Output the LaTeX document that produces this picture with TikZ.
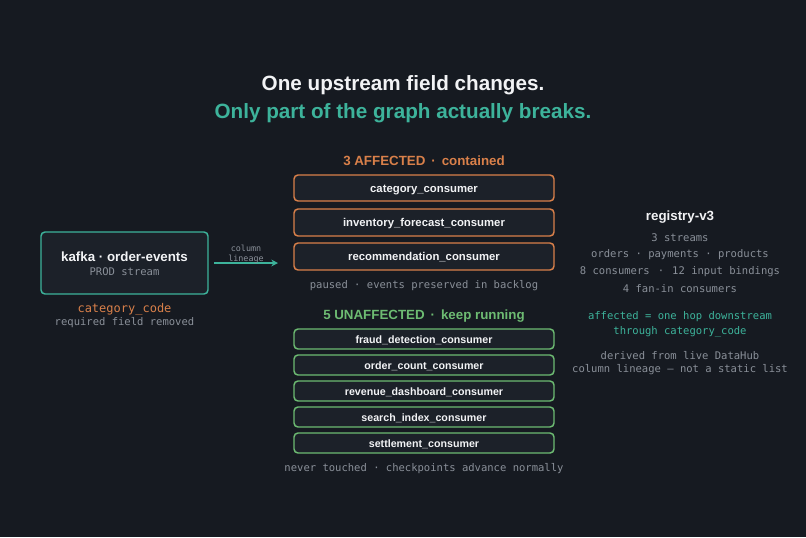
\documentclass[tikz,border=0pt]{standalone}
\usepackage{fontspec}
\setmainfont{Liberation Sans}
\setmonofont{DejaVu Sans Mono}
\usetikzlibrary{arrows.meta}
\definecolor{bg}{HTML}{161A21}
\definecolor{boxf}{HTML}{1C2129}
\definecolor{teal}{HTML}{3DB39B}
\definecolor{org}{HTML}{D9804A}
\definecolor{grn}{HTML}{6DBB72}
\definecolor{gry}{HTML}{8A9099}
\definecolor{wht}{HTML}{F2F3F5}
\begin{document}
\begin{tikzpicture}[x=0.75pt,y=-0.75pt,
  cbox/.style={draw=#1,fill=boxf,line width=1.1pt,rounded corners=3pt},
  btxt/.style={text=wht,anchor=base,font=\bfseries\fontsize{8.5}{10}\selectfont},
  mono/.style={text=gry,font=\ttfamily\fontsize{7.9}{10}\selectfont,align=center},
  hd/.style={font=\bfseries\fontsize{10}{12}\selectfont}]
\fill[bg] (0,0) rectangle (806,537);
\useasboundingbox (0,0) rectangle (806,537);
\node[text=wht,font=\bfseries\fontsize{15.5}{18}\selectfont] (t1) at (403,85) {One upstream field changes.};
\node[text=teal,font=\bfseries\fontsize{15.5}{18}\selectfont] (t2) at (403,113) {Only part of the graph actually breaks.};
\node[hd,text=org] (ah) at (424,161) {3 AFFECTED \,·\, contained};
\foreach \n/\y/\h/\t in {a1/175/26/category\_consumer,a2/209/27/inventory\_forecast\_consumer,a3/243/27/recommendation\_consumer}{
  \draw[cbox=org] (294,\y) rectangle (554,\y+\h);
  \node[btxt] (\n) at (424,\y+\h/2+4) {\t};}
\node[mono] (ap) at (424,286) {paused · events preserved in backlog};
\node[hd,text=grn] (uh) at (424,316) {5 UNAFFECTED \,·\, keep running};
\foreach \n/\y/\t in {u1/329/fraud\_detection\_consumer,u2/355/order\_count\_consumer,u3/381/revenue\_dashboard\_consumer,u4/407/search\_index\_consumer,u5/433/settlement\_consumer}{
  \draw[cbox=grn] (294,\y) rectangle (554,\y+20);
  \node[btxt,font=\bfseries\fontsize{8}{10}\selectfont] (\n) at (424,\y+14) {\t};}
\node[mono] (un) at (424,469) {never touched · checkpoints advance normally};
\draw[cbox=teal] (41,232) rectangle (208,294);
\node[text=wht,font=\bfseries\fontsize{10}{12}\selectfont] (k) at (124.5,257) {kafka · order-events};
\node[mono] (ks) at (124.5,272) {PROD stream};
\node[mono,text=org,font=\ttfamily\fontsize{9}{10}\selectfont] (cc) at (124.5,309) {category\_code};
\node[mono] (rf) at (124.5,323) {required field removed};
\coordinate (s) at (214,263); \coordinate (e) at (278,263);
\draw[teal,line width=1.1pt,-{Stealth[length=5pt,width=5pt]}] (s) -- (e);
\node[mono,font=\ttfamily\fontsize{6.3}{7.5}\selectfont] (cl) at (246,254) {column\\lineage};
\node[text=wht,font=\bfseries\fontsize{10}{12}\selectfont] (r) at (680,217) {registry-v3};
\node[mono] (r1) at (680,238) {3 streams};
\node[mono] (r2) at (680,255) {orders · payments · products};
\node[mono] (r3) at (680,272) {8 consumers \,·\, 12 input bindings};
\node[mono] (r4) at (680,289) {4 fan-in consumers};
\node[mono,text=teal] (r5) at (680,317) {affected = one hop downstream};
\node[mono,text=teal] (r6) at (680,332) {through category\_code};
\node[mono] (r7) at (680,356) {derived from live DataHub};
\node[mono] (r8) at (680,370) {column lineage — not a static list};
\end{tikzpicture}
\end{document}
